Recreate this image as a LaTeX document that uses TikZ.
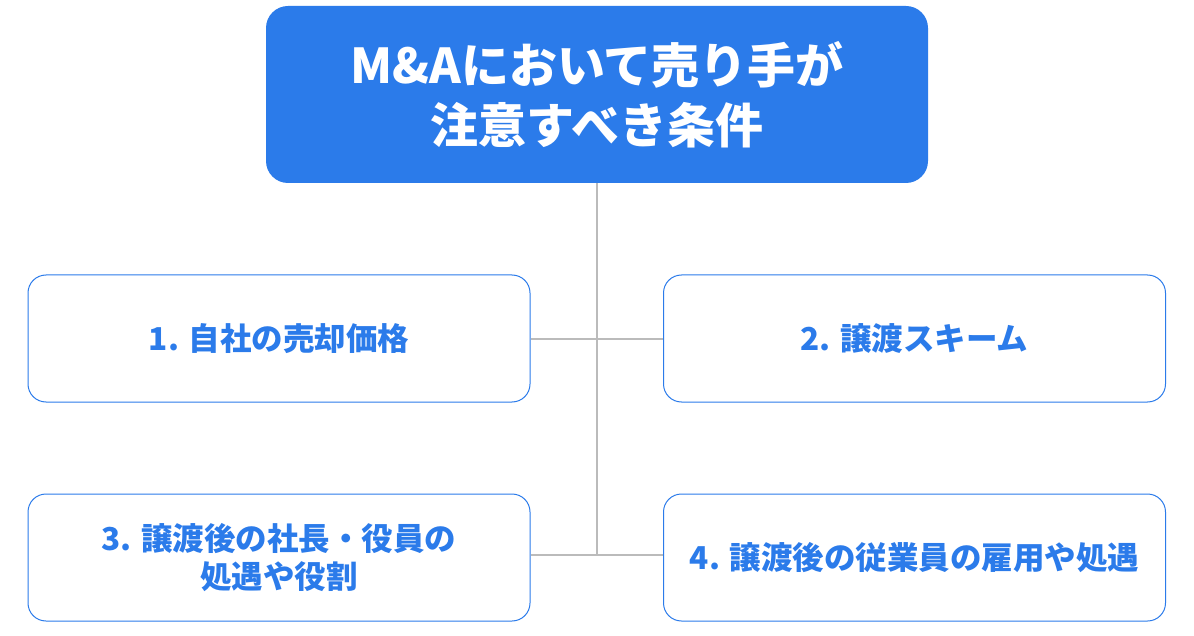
\documentclass[tikz,border=0pt]{standalone}
\usepackage{fontspec}
\setmainfont{Noto Sans CJK JP}
\definecolor{mblue}{HTML}{2B7BEA}
\definecolor{lgray}{HTML}{BBBBBB}
\begin{document}
\begin{tikzpicture}[x=1pt,y=-1pt,
  sub/.style={draw=mblue,line width=1pt,rounded corners=18pt,minimum width=502pt,minimum height=127pt,text=mblue,font=\fontsize{31.5}{38}\selectfont\bfseries,align=center},
  conn/.style={draw=lgray,line width=2pt}]
\useasboundingbox (0,0) rectangle (1194,636);
\node[fill=mblue,rounded corners=22pt,minimum width=662pt,minimum height=177pt,text=white,font=\fontsize{48}{60}\selectfont\bfseries,align=center] (top) at (597,94.5) {M\&Aにおいて売り手が\\注意すべき条件};
\node[sub] (a) at (279,338.5) {1. 自社の売却価格};
\node[sub] (b) at (914.5,338.5) {2. 譲渡スキーム};
\node[sub] (c) at (279,557.5) {3. 譲渡後の社長・役員の\\処遇や役割};
\node[sub] (d) at (914.5,557.5) {4. 譲渡後の従業員の雇用や処遇};
\coordinate (j) at (597,555);
\draw[conn] (top.south) -- (j);
\draw[conn] (a.east) -- (b.west);
\draw[conn] (c.east |- j) -- (d.west |- j);
\end{tikzpicture}
\end{document}
